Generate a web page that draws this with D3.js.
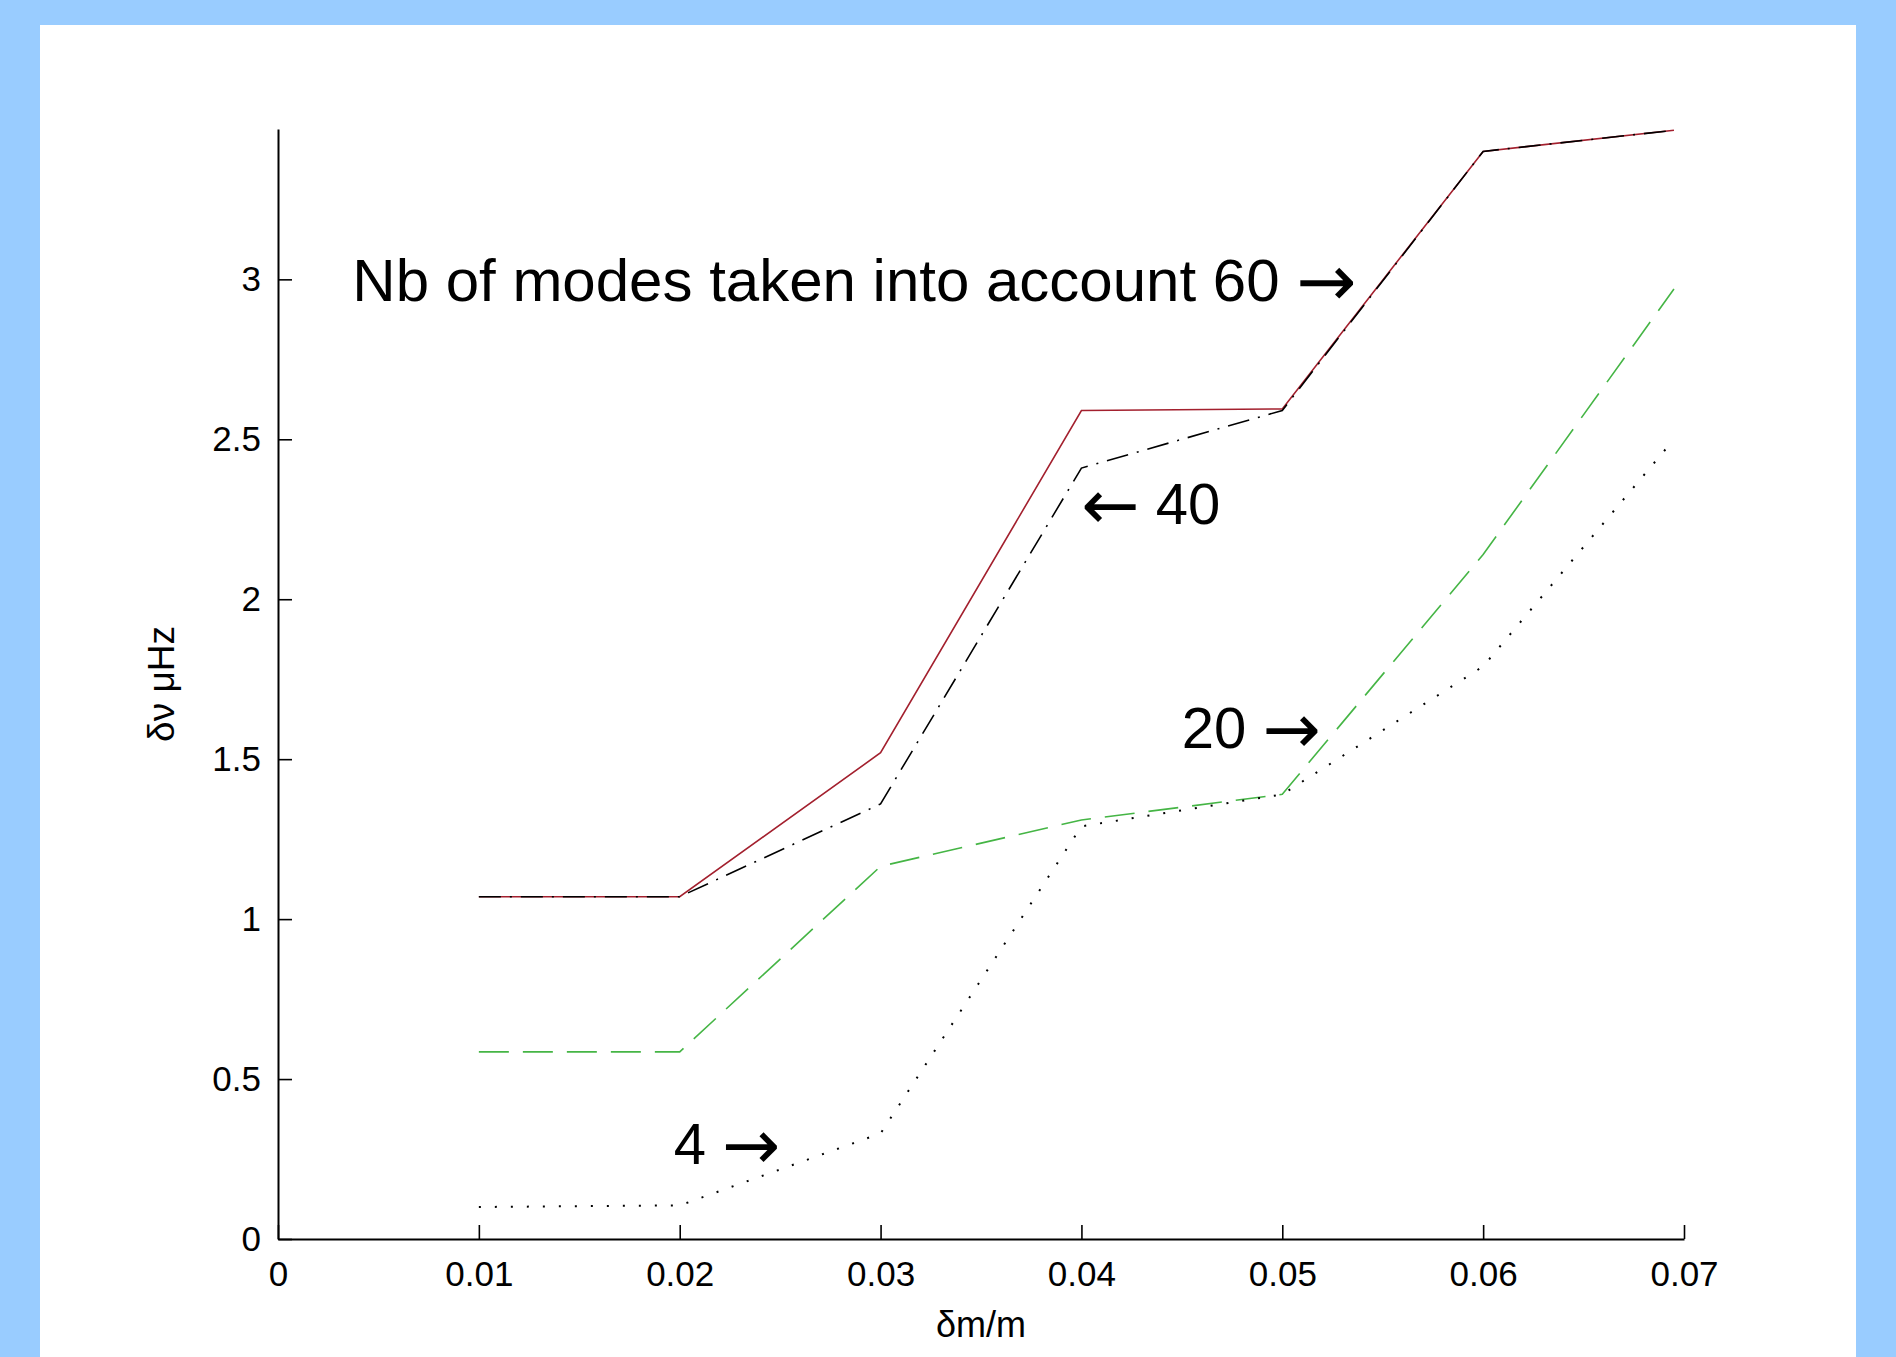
<!DOCTYPE html>
<html>
<head>
<meta charset="utf-8">
<script src="https://cdn.jsdelivr.net/npm/d3@7"></script>
<style>
  body { margin: 0; background: #99ccff; }
  svg { display: block; }
  text { font-family: "Liberation Sans", Arial, sans-serif; fill: #000; }
</style>
</head>
<body>
<svg></svg>
<script>
// values
var dm = [0.01, 0.02, 0.03, 0.04, 0.05, 0.06, 0.0695];
var modes60 = [1.07, 1.07, 1.52, 2.59, 2.595, 3.40, 3.466];
var modes40 = [1.07, 1.07, 1.36, 2.41, 2.59, 3.40, 3.466];
var modes20 = [0.585, 0.585, 1.165, 1.31, 1.39, 2.14, 2.97];
var modes4 = [0.10, 0.105, 0.33, 1.29, 1.39, 1.79, 2.50];

var xTicks = [0, 0.01, 0.02, 0.03, 0.04, 0.05, 0.06, 0.07];
var xTickLabels = ["0", "0.01", "0.02", "0.03", "0.04", "0.05", "0.06", "0.07"];
var yTicks = [0, 0.5, 1, 1.5, 2, 2.5, 3];
var yTickLabels = ["0", "0.5", "1", "1.5", "2", "2.5", "3"];
var xLim = [0, 0.07];
var yLim = [0, 3.47];

var annoText = ["Nb of modes taken into account 60 \u2192", "\u2190 40", "20 \u2192", "4 \u2192"];
var annoX = [0.0037, 0.04, 0.045, 0.0197];
var annoY = [3, 2.3, 1.6, 0.3];

var svgWidth = 1896;
var svgHeight = 1357;

var svg = d3.select("svg")
    .attr("width", svgWidth)
    .attr("height", svgHeight);

// white figure panel on the blue page
svg.append("rect")
  .attr("x", 40)
  .attr("y", 25)
  .attr("width", 1816)
  .attr("height", svgHeight - 25)
  .attr("fill", "#ffffff");

var x = d3.scaleLinear().domain(xLim).range([278, 1684]);
var y = d3.scaleLinear().domain(yLim).range([1239, 129]);

svg.append("g")
  .attr("transform", "translate(0," + y(0) + ")")
  .call(d3.axisBottom(x)
    .tickValues(xTicks)
    .tickFormat(function(d, i) { return xTickLabels[i]; })
    .tickSizeInner(-14)
    .tickSizeOuter(0)
    .tickPadding(22));

svg.append("g")
  .attr("transform", "translate(" + x(0) + ",0)")
  .call(d3.axisLeft(y)
    .tickValues(yTicks)
    .tickFormat(function(d, i) { return yTickLabels[i]; })
    .tickSizeInner(-14)
    .tickSizeOuter(0)
    .tickPadding(17));

svg.selectAll(".domain").attr("stroke", "#000").attr("stroke-width", 2);
svg.selectAll(".tick line").attr("stroke", "#000").attr("stroke-width", 1.6);
svg.selectAll(".tick text")
  .attr("font-family", "'Liberation Sans', Arial, sans-serif")
  .attr("font-size", 35)
  .attr("fill", "#000");

// axis labels
svg.append("text")
  .attr("x", (x(xLim[0]) + x(xLim[1])) / 2)
  .attr("y", 1337)
  .attr("text-anchor", "middle")
  .attr("font-size", 36)
  .text("\u03b4m/m");

svg.append("text")
  .attr("transform", "translate(174," + (y(yLim[0]) + y(yLim[1])) / 2 + ") rotate(-90)")
  .attr("text-anchor", "middle")
  .attr("font-size", 37)
  .text("\u03b4\u03bd \u03bcHz");

var line = d3.line()
  .x(function(d, i) { return x(dm[i]); })
  .y(function(d) { return y(d); });

var series = [
  { values: modes60, color: "#a3202e", dash: null, width: 1.6 },
  { values: modes20, color: "#45b545", dash: "30,14", width: 1.6 },
  { values: modes40, color: "#000000", dash: "22,9,2,9", width: 1.6 },
  { values: modes4, color: "#000000", dash: "2,14", width: 2 }
];

svg.selectAll("path.series")
  .data(series)
  .enter()
  .append("path")
  .attr("class", "series")
  .attr("fill", "none")
  .attr("stroke", function(d) { return d.color; })
  .attr("stroke-width", function(d) { return d.width; })
  .attr("stroke-dasharray", function(d) { return d.dash; })
  .attr("d", function(d) { return line(d.values); });

// annotations, placed in data coordinates like matlab text() (middle aligned)
var anno = svg.selectAll("text.anno")
  .data(annoText)
  .enter()
  .append("text")
  .attr("class", "anno")
  .attr("x", function(d, i) { return x(annoX[i]); })
  .attr("y", function(d, i) {
    var fs = i == 0 ? 60 : 58;
    return y(annoY[i]) + 0.36 * fs;
  })
  .attr("font-size", function(d, i) { return i == 0 ? 60 : 58; });

// the arrows are long tex-style arrows, so give them their own bigger glyph
anno.each(function(d) {
  var t = d3.select(this);
  var parts = d.split(/([\u2190\u2192])/);
  var shift = 0;
  parts.forEach(function(p) {
    if (p === "") return;
    if (p == "\u2190" || p == "\u2192") {
      t.append("tspan")
        .attr("font-family", "'DejaVu Sans', sans-serif")
        .attr("font-size", "1.2em")
        .attr("dy", 5 - shift)
        .text(p);
      shift = 5;
    } else {
      t.append("tspan").attr("dy", -shift).text(p);
      shift = 0;
    }
  });
});
</script>
</body>
</html>
